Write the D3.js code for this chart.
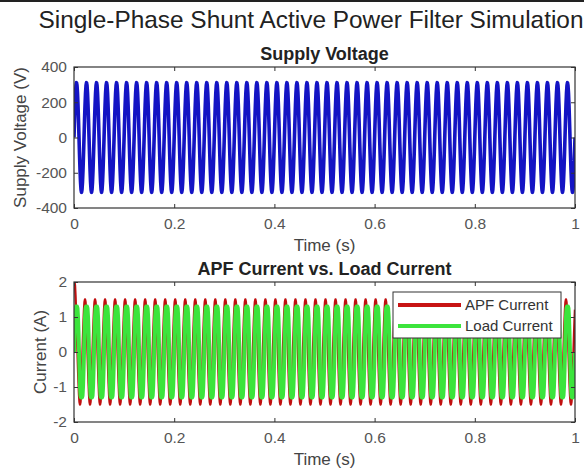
<!DOCTYPE html>
<html>
<head>
<meta charset="utf-8">
<script src="https://cdn.jsdelivr.net/npm/d3@7"></script>
<style>
  body { margin: 0; background: #fff; }
  svg { font-family: "Liberation Sans", Arial, sans-serif; }
</style>
</head>
<body>
<div id="chart"></div>
<script>
// Data
const timeTicks = [0, 0.2, 0.4, 0.6, 0.8, 1];
const voltTicks = [-400, -200, 0, 200, 400];
const currTicks = [-2, -1, 0, 1, 2];

// one 20 ms period of each signal, sampled every 1 ms
const sampleStep = 0.001;
const voltageCycle = [0, 96, 183, 252, 296, 311, 296, 252, 183, 96,
                      0, -96, -183, -252, -296, -311, -296, -252, -183, -96];
const loadCycle = [0, 0.55, 1.0, 1.25, 1.3, 1.3, 1.3, 1.25, 1.0, 0.55,
                   0, -0.55, -1.0, -1.25, -1.3, -1.3, -1.3, -1.25, -1.0, -0.55];
const apfCycle = [1.21, 1.43, 1.5, 1.43, 1.21, 0.88, 0.46, 0, -0.46, -0.88,
                  -1.21, -1.43, -1.5, -1.43, -1.21, -0.88, -0.46, 0, 0.46, 0.88];
// start-up transient of the APF current (first samples)
const apfStart = [2.0, 2.0, 1.9, 1.6];

const nSamples = 1001;

// Build the time series by repeating the period
const buildSeries = (cycle, start) => d3.range(nSamples).map(i => ({
    t: i * sampleStep,
    v: (start && i < start.length) ? start[i] : cycle[i % cycle.length]
}));
const voltage = buildSeries(voltageCycle);
const loadCur = buildSeries(loadCycle);
const apfCur = buildSeries(apfCycle, apfStart);

const W = 584, H = 471;
const svg = d3.select('#chart').append('svg')
    .attr('width', W)
    .attr('height', H);

// top border of the figure
svg.append('rect').attr('x', 0).attr('y', 0).attr('width', W).attr('height', 2).attr('fill', '#222');

svg.append('text')
    .attr('x', 311).attr('y', 28)
    .attr('text-anchor', 'middle')
    .attr('font-size', 24.4)
    .attr('fill', '#222')
    .text('Single-Phase Shunt Active Power Filter Simulation');

const x0 = 74, x1 = 575;

const drawPanel = (cfg) => {
    const x = d3.scaleLinear().domain([0, 1]).range([x0, x1]);
    const y = d3.scaleLinear().domain([cfg.ticks[0], cfg.ticks[cfg.ticks.length - 1]]).range([cfg.bottom, cfg.top]);
    const g = svg.append('g');

    g.append('clipPath').attr('id', cfg.id)
        .append('rect')
        .attr('x', x0).attr('y', cfg.top)
        .attr('width', x1 - x0).attr('height', cfg.bottom - cfg.top);

    const line = d3.line().x(d => x(d.t)).y(d => y(d.v));
    cfg.series.forEach(s => {
        g.append('path')
            .datum(s.data)
            .attr('clip-path', `url(#${cfg.id})`)
            .attr('fill', 'none')
            .attr('stroke', s.color)
            .attr('stroke-width', s.width)
            .attr('stroke-linejoin', 'round')
            .attr('d', line);
    });

    // axes, MATLAB style box with inward ticks
    const tickCol = '#555';
    const fmt = d => String(d);
    g.append('g').attr('transform', `translate(0,${cfg.bottom})`)
        .call(d3.axisBottom(x).tickValues(timeTicks).tickSizeInner(-4).tickSizeOuter(0).tickPadding(10).tickFormat(fmt))
        .call(a => a.select('.domain').remove());
    g.append('g').attr('transform', `translate(0,${cfg.top})`)
        .call(d3.axisTop(x).tickValues(timeTicks).tickSizeInner(-4).tickSizeOuter(0).tickFormat(''))
        .call(a => a.select('.domain').remove());
    g.append('g').attr('transform', `translate(${x0},0)`)
        .call(d3.axisLeft(y).tickValues(cfg.ticks).tickSizeInner(-4).tickSizeOuter(0).tickPadding(7).tickFormat(fmt))
        .call(a => a.select('.domain').remove());
    g.append('g').attr('transform', `translate(${x1},0)`)
        .call(d3.axisRight(y).tickValues(cfg.ticks).tickSizeInner(-4).tickSizeOuter(0).tickFormat(''))
        .call(a => a.select('.domain').remove());
    g.selectAll('.tick line').attr('stroke', '#333');
    g.selectAll('.tick text').attr('fill', tickCol).attr('font-size', 15.5)
        .attr('font-family', '"Liberation Sans", Arial, sans-serif');

    g.append('rect')
        .attr('x', x0).attr('y', cfg.top)
        .attr('width', x1 - x0).attr('height', cfg.bottom - cfg.top)
        .attr('fill', 'none').attr('stroke', '#333').attr('stroke-width', 1.2);

    g.append('text')
        .attr('x', (x0 + x1) / 2).attr('y', cfg.top - 7)
        .attr('text-anchor', 'middle')
        .attr('font-size', 18).attr('font-weight', 'bold').attr('fill', '#222')
        .text(cfg.title);
    g.append('text')
        .attr('x', (x0 + x1) / 2).attr('y', cfg.bottom + 43)
        .attr('text-anchor', 'middle')
        .attr('font-size', 17).attr('fill', '#444')
        .text('Time (s)');
    g.append('text')
        .attr('transform', `translate(${cfg.ylabelX},${(cfg.top + cfg.bottom) / 2}) rotate(-90)`)
        .attr('text-anchor', 'middle')
        .attr('font-size', 17).attr('fill', '#444')
        .text(cfg.ylabel);
    return { x, y };
};

drawPanel({
    id: 'clipV', top: 67, bottom: 208, ticks: voltTicks,
    title: 'Supply Voltage', ylabel: 'Supply Voltage (V)', ylabelX: 26,
    series: [{ data: voltage, color: '#1414c4', width: 3.6 }]
});

drawPanel({
    id: 'clipI', top: 282, bottom: 422, ticks: currTicks,
    title: 'APF Current vs. Load Current', ylabel: 'Current (A)', ylabelX: 46,
    series: [
        { data: apfCur, color: '#c01010', width: 2.4 },
        { data: loadCur, color: '#3ce43c', width: 4 }
    ]
});

// Legend
const legendItems = [
    { label: 'APF Current', color: '#c81414' },
    { label: 'Load Current', color: '#3ce43c' }
];
const lg = svg.append('g').attr('transform', 'translate(393,292)');
lg.append('rect').attr('width', 168).attr('height', 46)
    .attr('fill', '#fff').attr('stroke', '#333').attr('stroke-width', 1);
legendItems.forEach((d, i) => {
    const yy = 13 + i * 21;
    lg.append('line').attr('x1', 5).attr('x2', 68).attr('y1', yy).attr('y2', yy)
        .attr('stroke', d.color).attr('stroke-width', 4);
    lg.append('text').attr('x', 72).attr('y', yy + 5)
        .attr('font-size', 15).attr('fill', '#333')
        .text(d.label);
});
</script>
</body>
</html>
